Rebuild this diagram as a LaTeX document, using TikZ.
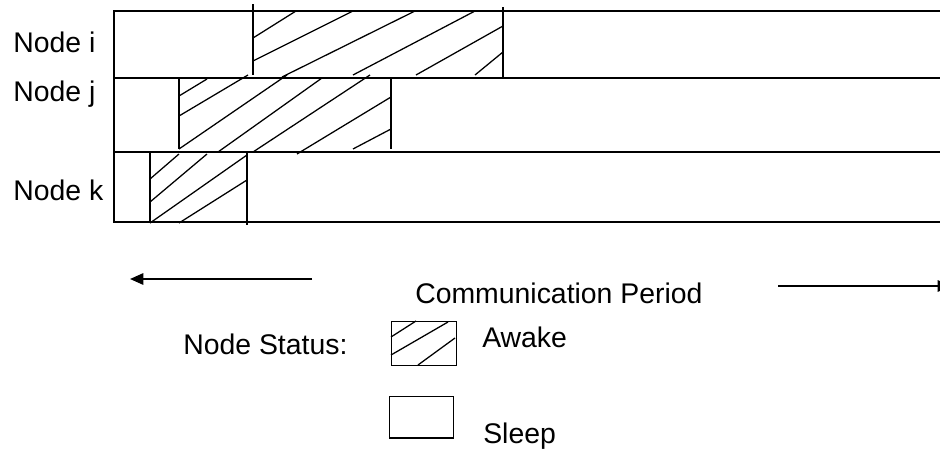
\documentclass[tikz,border=0pt]{standalone}
\usepackage{fontspec}
\setmainfont{Liberation Sans}
\usetikzlibrary{arrows.meta}
\begin{document}
\begin{tikzpicture}[x=0.75pt,y=-0.75pt,
  rule/.style={line width=0.95pt},
  hatch/.style={line width=0.95pt},
  label/.style={inner sep=0pt,anchor=base west,font=\fontsize{21.3}{25}\selectfont},
  period/.style={line width=1.5pt,-{Triangle[length=10pt,width=8.5pt]}}]
\useasboundingbox (0,0) rectangle (940,450);

% row labels
\node[label] (li) at (13,52)  {Node i};
\node[label] (lj) at (13,101) {Node j};
\node[label] (lk) at (13,200) {Node k};

% timeline rows
\draw[rule] (940,11) -- (114,11) -- (114,222) -- (940,222);
\draw[rule] (114,78)  -- (940,78);
\draw[rule] (114,152) -- (940,152);

% node i awake interval
\draw[rule] (253,4) -- (253,75);
\draw[rule] (503,7) -- (503,79);
\draw[hatch] (253,38) -- (296,11);
\draw[hatch] (253,61) -- (353,11);
\draw[hatch] (282,77) -- (415,11);
\draw[hatch] (353,75) -- (475,11);
\draw[hatch] (416,75) -- (503,26);
\draw[hatch] (475,75) -- (503,52);

% node j awake interval
\draw[rule] (179,78) -- (179,149);
\draw[rule] (391,78) -- (391,149);
\draw[hatch] (179,96)  -- (207,79);
\draw[hatch] (179,116) -- (248,75);
\draw[hatch] (179,149) -- (287,75);
\draw[hatch] (218,152) -- (322,78);
\draw[hatch] (253,152) -- (370,75);
\draw[hatch] (297,154) -- (391,97);
\draw[hatch] (353,149) -- (391,129);

% node k awake interval
\draw[rule] (150,152) -- (150,222);
\draw[rule] (247,152) -- (247,225);
\draw[hatch] (150,179) -- (179,154);
\draw[hatch] (150,202) -- (207,154);
\draw[hatch] (150,223) -- (247,155);
\draw[hatch] (179,223) -- (247,180);

% communication period
\node[label] (cp) at (415,303) {Communication Period};
\coordinate (la) at (312,279);
\coordinate (lt) at (130,279);
\coordinate (ra) at (778,286);
\coordinate (rt) at (951,286);
\draw[period] (la) -- (lt);
\draw[period] (ra) -- (rt);

% legend
\node[label] (ns) at (183,354) {Node Status:};
\node[draw,rule,inner sep=0pt,minimum width=48.75pt,minimum height=33pt,anchor=north west] (aw) at (391,321) {};
\draw[hatch] (391,337) -- (416,321);
\draw[hatch] (391,355) -- (448,322);
\draw[hatch] (418,365) -- (455,338);
\node[label] (awt) at (482,347) {Awake};
\node[draw,rule,inner sep=0pt,minimum width=48pt,minimum height=31pt,anchor=north west] (sl) at (389,396) {};
\node[label] (slt) at (483,443) {Sleep};
\end{tikzpicture}
\end{document}
